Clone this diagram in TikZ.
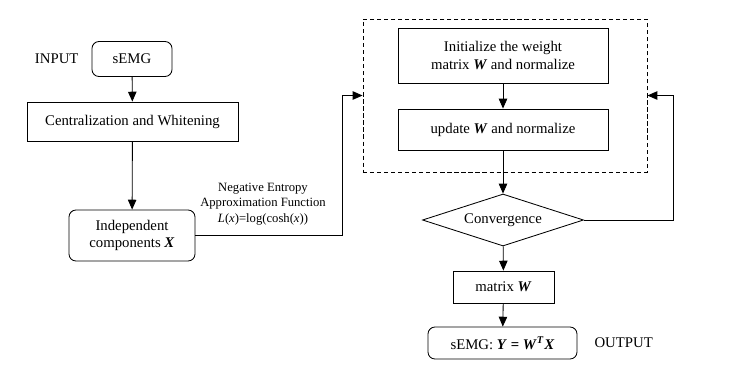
\documentclass[tikz,border=0pt]{standalone}
\usepackage{fontspec}
\setmainfont{Liberation Serif}
\usepackage{tikz}
\usetikzlibrary{positioning,arrows.meta,shapes.geometric,calc}

\newcommand{\bv}[1]{\textbf{\textit{#1}}}
\newcommand{\boxfont}{\fontsize{10.5}{12.5}\selectfont}

\begin{document}
\begin{tikzpicture}[x=0.025cm, y=-0.025cm, line width=0.6pt]
    % Styles
    \tikzstyle{roundbox} = [rectangle, rounded corners=5pt, draw=black, text centered, font=\boxfont]
    \tikzstyle{process} = [rectangle, draw=black, text centered, font=\boxfont]
    \tikzstyle{dashbox} = [rectangle, draw=black, dash pattern=on 3pt off 2pt]
    \tikzstyle{decision} = [diamond, aspect=3.1, draw=black, inner sep=0pt, text centered, font=\boxfont]
    \tikzstyle{arrow} = [->,>={Triangle[length=7pt,width=6pt]}]

    \useasboundingbox (0,0) rectangle (731,384);

    % Left column
    \node (semg) [roundbox, minimum width=2cm, minimum height=0.875cm] at (132,59) {sEMG};
    \node (input) [left=0.2cm of semg, font=\boxfont] {INPUT};
    \node (central) [process, minimum width=5.275cm, minimum height=0.975cm] at (132.5,121.5) {Centralization and Whitening};
    \node (indep) [roundbox, minimum width=3.15cm, minimum height=1.275cm, align=center] at (132,235.5) {Independent\\components \bv{X}};
    \node (func) [font=\small, align=center, inner sep=0pt] at (263,204) {Negative Entropy\\Approximation Function\\\textit{L}(\textit{x})=log(cosh(\textit{x}))};

    % Iteration loop
    \node (loop) [dashbox, minimum width=7.1cm, minimum height=3.825cm] at (505,95.5) {};
    \node (init) [process, minimum width=5.25cm, minimum height=1.375cm, align=center] at (503,55.5) {Initialize the weight\\matrix \bv{W} and normalize};
    \node (update) [process, minimum width=5.25cm, minimum height=1.025cm] at (503,129.5) {update \bv{W} and normalize};
    \node (conv) [decision, minimum width=4.025cm, minimum height=1.3cm] at (503,220) {Convergence};

    % Output
    \node (matw) [process, minimum width=2.525cm, minimum height=0.8cm] at (503.5,287) {matrix \bv{W}};
    \node (out) [roundbox, minimum width=3.725cm, minimum height=0.8cm] at (502.5,343) {sEMG: \bv{Y} \textbf{=} \bv{W}\textsuperscript{\bv{T}}\bv{X}};
    \node (output) [right=0.3cm of out, font=\boxfont] {OUTPUT};

    % Arrows
    \draw [arrow] (semg) -- (central);
    \draw [arrow] (central) -- (indep);
    \draw [arrow] (indep.east) -- ++(147,0) |- (loop.west);
    \draw [arrow] (init) -- (update);
    \draw [arrow] (update) -- (conv);
    \draw [arrow] (conv.east) -- ++(89,0) |- (loop.east);
    \draw [arrow] (conv) -- (matw);
    \draw [arrow] (matw) -- (out);

\end{tikzpicture}
\end{document}
